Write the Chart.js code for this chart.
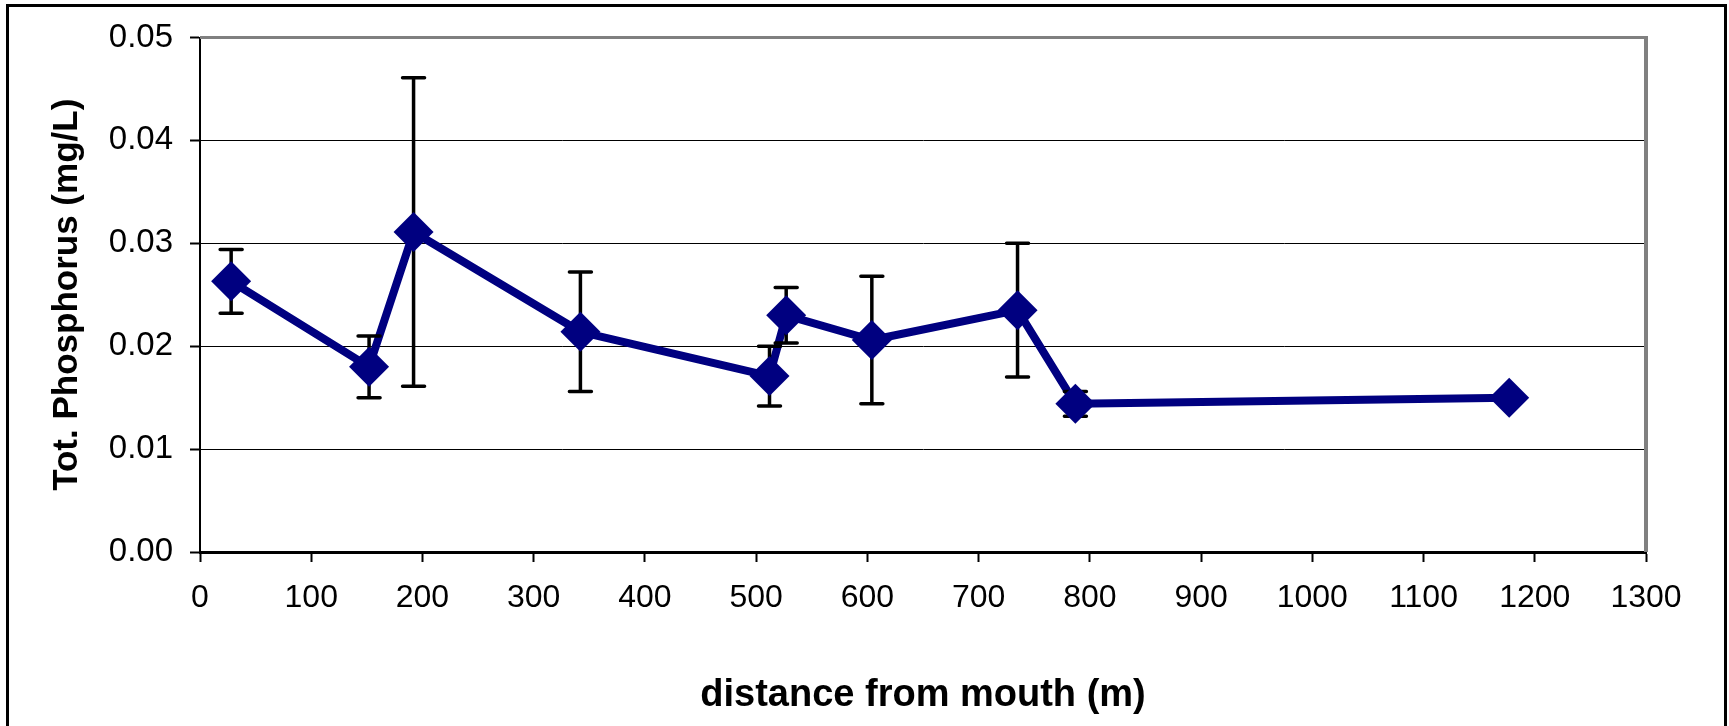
<!DOCTYPE html>
<html>
<head>
<meta charset="utf-8">
<script src="https://cdn.jsdelivr.net/npm/chart.js@4.4.0/dist/chart.umd.min.js"></script>
<style>
  html, body { margin: 0; padding: 0; background: #fff; }
  canvas { display: block; }
</style>
</head>
<body>
<canvas id="chart" width="1729" height="726"></canvas>
<script>
// distance from mouth (m)
const distances = [28, 152, 192, 342, 512, 527, 604, 735, 787, 1177];
// total phosphorus (mg/L)
const phosphorus = [0.0263, 0.0180, 0.0311, 0.0214, 0.0171, 0.0230, 0.0206, 0.0235, 0.0144, 0.0150];
// +/- error (mg/L), 0 = no bar
const errors = [0.0031, 0.0030, 0.0150, 0.0058, 0.0029, 0.0027, 0.0062, 0.0065, 0.0012, 0];

const yTicks = [0, 0.01, 0.02, 0.03, 0.04, 0.05];
const xTicks = [0, 100, 200, 300, 400, 500, 600, 700, 800, 900, 1000, 1100, 1200, 1300];

const FONT = '"Liberation Sans", Arial, sans-serif';
const NAVY = '#000080';

const points = distances.map((d, i) => ({ x: d, y: phosphorus[i] }));

// white background + outer frame
const framePlugin = {
    id: 'frame',
    beforeDraw(chart) {
        const ctx = chart.ctx;
        ctx.save();
        ctx.fillStyle = '#fff';
        ctx.fillRect(0, 0, chart.width, chart.height);
        ctx.strokeStyle = '#000';
        ctx.lineWidth = 3;
        ctx.strokeRect(7.5, 5.5, 1718, 780);
        ctx.restore();
    },
    beforeDatasetsDraw(chart) {
        // grey plot-area border, top and right side
        const { ctx, chartArea: a } = chart;
        ctx.save();
        ctx.strokeStyle = '#808080';
        ctx.lineWidth = 3;
        ctx.beginPath();
        ctx.moveTo(a.left, a.top);
        ctx.lineTo(a.right + 2, a.top);
        ctx.stroke();
        ctx.lineWidth = 4;
        ctx.beginPath();
        ctx.moveTo(a.right, a.top - 1.5);
        ctx.lineTo(a.right, a.bottom);
        ctx.stroke();
        ctx.restore();
    }
};

// error bars, drawn after the line but under the markers
const errorBarPlugin = {
    id: 'errorBars',
    afterDatasetDraw(chart, args) {
        if (args.index !== 1) return;
        const { ctx, scales: { x, y } } = chart;
        ctx.save();
        ctx.strokeStyle = '#000';
        ctx.lineWidth = 3.5;
        distances.forEach((d, i) => {
            if (!errors[i]) return;
            const px = x.getPixelForValue(d);
            const top = y.getPixelForValue(phosphorus[i] + errors[i]);
            const bot = y.getPixelForValue(phosphorus[i] - errors[i]);
            ctx.lineCap = 'butt';
            ctx.beginPath();
            ctx.moveTo(px, top);
            ctx.lineTo(px, bot);
            ctx.stroke();
            ctx.lineCap = 'round';
            ctx.beginPath();
            ctx.moveTo(px - 11, top);
            ctx.lineTo(px + 11, top);
            ctx.moveTo(px - 11, bot);
            ctx.lineTo(px + 11, bot);
            ctx.stroke();
        });
        ctx.restore();
    }
};

new Chart(document.getElementById('chart'), {
    type: 'scatter',
    data: {
        datasets: [
            {
                label: 'markers',
                data: points,
                showLine: false,
                pointStyle: 'rectRot',
                pointRadius: 20,
                backgroundColor: NAVY,
                borderColor: NAVY,
                borderWidth: 0
            },
            {
                label: 'line',
                data: points,
                showLine: true,
                pointRadius: 0,
                borderColor: NAVY,
                borderWidth: 8,
                borderJoinStyle: 'round',
                tension: 0
            }
        ]
    },
    options: {
        responsive: false,
        animation: false,
        devicePixelRatio: 1,
        layout: { padding: { top: 37.5, right: 83, left: 0, bottom: 0 } },
        plugins: {
            legend: { display: false },
            tooltip: { enabled: false }
        },
        scales: {
            x: {
                type: 'linear',
                min: 0,
                max: 1300,
                afterBuildTicks: s => { s.ticks = xTicks.map(v => ({ value: v })); },
                afterFit: s => { s.height = 174; },
                border: { display: true, color: '#000', width: 3 },
                grid: {
                    drawOnChartArea: false,
                    drawTicks: true,
                    tickLength: 10,
                    tickWidth: 2,
                    tickColor: '#000'
                },
                ticks: {
                    color: '#000',
                    padding: 17,
                    maxRotation: 0,
                    font: { family: FONT, size: 32 },
                    callback: v => String(v)
                },
                title: {
                    display: true,
                    text: 'distance from mouth (m)',
                    color: '#000',
                    padding: { top: 0, bottom: 8 },
                    font: { family: FONT, size: 38, weight: 'bold' }
                }
            },
            y: {
                type: 'linear',
                min: 0,
                max: 0.05,
                afterBuildTicks: s => { s.ticks = yTicks.map(v => ({ value: v })); },
                afterFit: s => { s.width = 200; },
                border: { display: true, color: '#000', width: 2 },
                grid: {
                    color: '#000',
                    lineWidth: 1,
                    drawTicks: true,
                    tickLength: 10,
                    tickWidth: 2,
                    tickColor: '#000'
                },
                ticks: {
                    color: '#000',
                    padding: 17,
                    font: { family: FONT, size: 33 },
                    callback: v => v.toFixed(2)
                },
                title: {
                    display: true,
                    text: 'Tot. Phosphorus (mg/L)',
                    color: '#000',
                    padding: { top: 46, bottom: 0 },
                    font: { family: FONT, size: 35, weight: 'bold' }
                }
            }
        }
    },
    plugins: [framePlugin, errorBarPlugin]
});
</script>
</body>
</html>
